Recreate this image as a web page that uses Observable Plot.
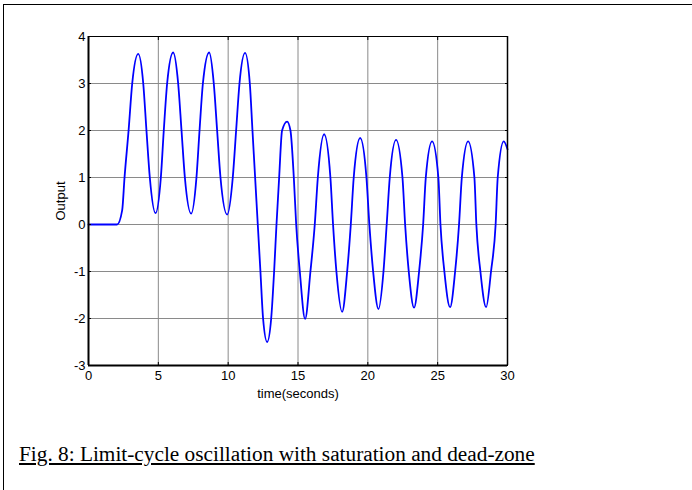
<!DOCTYPE html>
<html>
<head>
<meta charset="utf-8">
<script src="https://cdn.jsdelivr.net/npm/d3@7"></script>
<script src="https://cdn.jsdelivr.net/npm/@observablehq/plot@0.6"></script>
<style>
  html, body { margin: 0; padding: 0; background: #fff; }
  #fig { position: relative; width: 692px; height: 490px; overflow: hidden; background: #fff; }
  #border { position: absolute; left: 3px; top: 4px; right: -10px; bottom: -10px;
            border-top: 1.5px solid #000; border-left: 1.5px solid #000; pointer-events: none; }
  #chart { position: absolute; left: 0; top: 0; }
  #caption { position: absolute; left: 19px; top: 441px; font-family: "Liberation Serif", "Times New Roman", serif;
             font-size: 21.3px; line-height: 26px; text-decoration: underline; color: #000; white-space: nowrap; }
</style>
</head>
<body>
<div id="fig">
  <div id="chart"></div>
  <div id="border"></div>
  <div id="caption">Fig. 8: Limit-cycle oscillation with saturation and dead-zone</div>
</div>
<script>
// Data
const time = [0, 2.05, 2.41, 2.58, 2.87, 3.13, 3.56, 3.92, 4.15, 4.39, 4.80,
  5.18, 5.39, 5.63, 6.06, 6.42, 6.66, 6.90, 7.35,
  7.73, 7.95, 8.19, 8.64, 8.97, 9.21, 9.45, 9.93,
  10.33, 10.57, 10.81, 11.21, 11.55, 11.74, 11.93, 12.12, 12.31, 12.50, 12.79,
  13.08, 13.29, 13.46, 13.65, 13.86, 14.22, 14.46, 14.70, 14.87, 15.13, 15.51,
  15.89, 16.20, 16.42, 16.87, 17.32, 17.51, 17.75, 18.16,
  18.52, 18.78, 18.99, 19.45, 19.90, 20.11, 20.38, 20.76,
  21.12, 21.35, 21.57, 22.02, 22.48, 22.67, 22.93, 23.31,
  23.67, 23.96, 24.15, 24.60, 25.05, 25.20, 25.48, 25.89,
  26.25, 26.53, 26.73, 27.18, 27.63, 27.77, 28.06, 28.47,
  28.82, 29.15, 29.30, 29.73, 30];
const output = [0, 0, 0.3, 1, 2, 3, 3.63, 3, 2, 1, 0.24,
  1, 2, 3, 3.66, 3, 2, 1, 0.23,
  1, 2, 3, 3.66, 3, 2, 1, 0.21,
  1, 2, 3, 3.65, 3, 2, 1, 0, -1, -2, -2.50,
  -2, -1, 0, 1, 2, 2.19, 2, 1, 0, -1, -2.01,
  -1, 0, 1, 1.92, 1, 0, -1, -1.86,
  -1, 0, 1, 1.84, 1, 0, -1, -1.80,
  -1, 0, 1, 1.80, 1, 0, -1, -1.77,
  -1, 0, 1, 1.77, 1, 0, -1, -1.76,
  -1, 0, 1, 1.77, 1, 0, -1, -1.76,
  -1, 0, 1, 1.77, 1.60];
const xTicks = [0, 5, 10, 15, 20, 25, 30];
const yTicks = [-3, -2, -1, 0, 1, 2, 3, 4];
const xLabel = "time(seconds)";
const yLabel = "Output";

const data = time.map((t, i) => ({t, v: output[i]}));
const gridStyle = {stroke: "#8a8a8a", strokeOpacity: 1, strokeWidth: 1};
const plain = d => String(d);

const chart = Plot.plot({
  width: 692,
  height: 490,
  marginLeft: 88,
  marginRight: 185,
  marginTop: 36,
  marginBottom: 125,
  style: {fontFamily: "'Liberation Sans', Arial, sans-serif", fontSize: "12.5px", color: "#000", background: "transparent"},
  x: {domain: [0, 30]},
  y: {domain: [-3, 4]},
  marks: [
    Plot.gridX(xTicks, gridStyle),
    Plot.gridY(yTicks, gridStyle),
    Plot.line(data, {x: "t", y: "v", stroke: "#0000ff", strokeWidth: 1.8, curve: "monotone-x"}),
    Plot.axisX(xTicks, {anchor: "bottom", tickSize: -3, tickPadding: 8, tickFormat: plain, fontSize: 13, label: xLabel, labelAnchor: "center", labelArrow: "none", labelOffset: 32}),
    Plot.axisX(xTicks, {anchor: "top", tickSize: -3, tickFormat: () => "", label: null}),
    Plot.axisY(yTicks, {anchor: "left", tickSize: -3, tickPadding: 6, tickFormat: plain, fontSize: 13, label: yLabel, labelAnchor: "center", labelArrow: "none", labelOffset: 33}),
    Plot.axisY(yTicks, {anchor: "right", tickSize: -3, tickFormat: () => "", label: null}),
    Plot.ruleY([4], {stroke: "#000", strokeWidth: 1}),
    Plot.ruleX([30], {stroke: "#000", strokeWidth: 1.5}),
    Plot.ruleY([-3], {stroke: "#000", strokeWidth: 2}),
    Plot.ruleX([0], {stroke: "#000", strokeWidth: 2})
  ]
});
document.getElementById("chart").appendChild(chart);
</script>
</body>
</html>
